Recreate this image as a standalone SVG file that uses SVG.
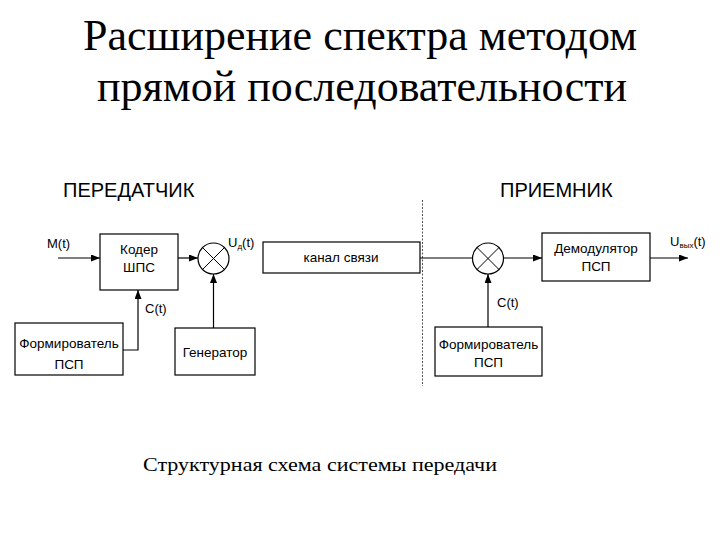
<svg xmlns="http://www.w3.org/2000/svg" width="720" height="540" viewBox="0 0 720 540">
<style>
.box{fill:#fff;stroke:#000;stroke-width:1.2}
.t{font-family:"Liberation Sans",Arial,sans-serif;font-size:13px;fill:#000}
.b{font-size:13.5px}
.c{text-anchor:middle}
.hd{font-family:"Liberation Sans",Arial,sans-serif;font-size:20px;fill:#000}
.ttl{font-family:"Liberation Serif","Times New Roman",serif;font-size:44px;fill:#000;text-anchor:middle}
.cap{font-family:"Liberation Serif","Times New Roman",serif;font-size:19px;fill:#000}
.ln{fill:none;stroke:#000;stroke-width:1.2}
.sub{font-size:8px}
</style>
<defs>
<marker id="ah" markerUnits="userSpaceOnUse" markerWidth="10" markerHeight="8" refX="9" refY="3.5" orient="auto">
<path d="M0,0 L9,3.5 L0,7 z" fill="#000"/>
</marker>
<g id="mulsym">
<circle cx="0" cy="0" r="15.5" fill="#fff" stroke="#000" stroke-width="1.2"/>
<path d="M-11,-11 L11,11 M11,-11 L-11,11" stroke="#000" stroke-width="1"/>
</g>
</defs>
<rect width="720" height="540" fill="#fff"/>

<g id="title">
<text class="ttl" x="360" y="50">Расширение спектра методом</text>
<text class="ttl" x="362" y="101">прямой последовательности</text>
</g>

<g id="tx-header"><text class="hd" x="63" y="197">ПЕРЕДАТЧИК</text></g>
<g id="rx-header"><text class="hd" x="500" y="197">ПРИЕМНИК</text></g>

<g id="divider"><line x1="422.5" y1="200" x2="422.5" y2="386" stroke="#555" stroke-width="1" stroke-dasharray="2,1.5"/></g>

<g id="connectors">
<path class="ln" d="M58,258 H100" marker-end="url(#ah)"/>
<path class="ln" d="M178,258 H198" marker-end="url(#ah)"/>
<path class="ln" d="M123,350 H138 V290" marker-end="url(#ah)"/>
<path class="ln" d="M213.5,328 V274" marker-end="url(#ah)"/>
<path class="ln" d="M420,258 H472.5"/>
<path class="ln" d="M503.5,258 H542" marker-end="url(#ah)"/>
<path class="ln" d="M488,328 V274" marker-end="url(#ah)"/>
<path class="ln" d="M650,258 H688" marker-end="url(#ah)"/>
</g>

<g id="m-label"><text class="t" x="47" y="248">M(t)</text></g>

<g id="coder">
<rect class="box" x="100" y="234" width="78" height="56"/>
<text class="t b c" x="139" y="254">Кодер</text>
<text class="t b c" x="139" y="272">ШПС</text>
</g>

<g id="mult-tx"><use href="#mulsym" x="213.5" y="258.5"/></g>

<g id="ud-label"><text class="t" x="228" y="247">U<tspan class="sub" dy="2">д</tspan><tspan dy="-2">(t)</tspan></text></g>

<g id="channel">
<rect class="box" x="263" y="242" width="157" height="31"/>
<text class="t b c" x="341" y="262">канал связи</text>
</g>

<g id="former-tx">
<rect class="box" x="15" y="323" width="108" height="52"/>
<text class="t b c" x="69" y="348">Формирователь</text>
<text class="t b c" x="69" y="369">ПСП</text>
</g>

<g id="ct-tx"><text class="t" x="145" y="313">C(t)</text></g>

<g id="generator">
<rect class="box" x="175" y="328" width="80" height="47"/>
<text class="t b c" x="215" y="357">Генератор</text>
</g>

<g id="mult-rx"><use href="#mulsym" x="488" y="258.5"/></g>

<g id="demod">
<rect class="box" x="542" y="233" width="108" height="48"/>
<text class="t b c" x="596" y="253">Демодулятор</text>
<text class="t b c" x="596" y="271">ПСП</text>
</g>

<g id="uout-label"><text class="t" x="670" y="246">U<tspan class="sub" dy="2">вых</tspan><tspan dy="-2">(t)</tspan></text></g>

<g id="former-rx">
<rect class="box" x="435" y="327" width="107" height="49"/>
<text class="t b c" x="488.5" y="349">Формирователь</text>
<text class="t b c" x="488.5" y="367">ПСП</text>
</g>

<g id="ct-rx"><text class="t" x="497" y="307">C(t)</text></g>

<g id="caption"><text class="cap" x="143" y="471" textLength="354" lengthAdjust="spacingAndGlyphs">Структурная схема системы передачи</text></g>
</svg>
